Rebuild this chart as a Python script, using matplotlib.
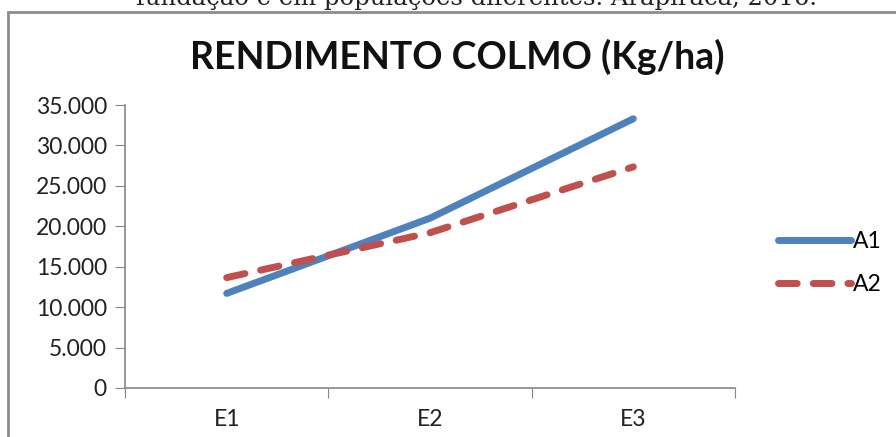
import matplotlib
matplotlib.use("Agg")
import matplotlib.pyplot as plt
from matplotlib.ticker import FuncFormatter
from matplotlib.patches import Rectangle

categories = ["E1", "E2", "E3"]
a1 = [11700, 21000, 33300]
a2 = [13650, 19200, 27350]
series_names = ["A1", "A2"]
yticks = [0, 5000, 10000, 15000, 20000, 25000, 30000, 35000]

blue = "#4F81BD"
red = "#C0504D"
axis_grey = "#868686"
font = "Lato"
lab_size = 16.5

fig = plt.figure(figsize=(8.96, 4.37), dpi=100)
fig.patch.set_facecolor("white")

# caption fragment at top (cut off in the reference)
fig.text(0.532, 1 - 5/437, "fundação e em populações diferentes. Arapiraca, 2016.",
         ha="center", va="baseline", fontsize=17.5, family="DejaVu Serif", color="#222222")

# chart frame
fig.patches.append(Rectangle((8/896, -0.1), 1.2, 1 - 12/437 + 0.1, transform=fig.transFigure,
                             fill=False, edgecolor="#8c8c8c", linewidth=2))

ax = fig.add_axes([125/896, 1 - 388/437, (735 - 125)/896, (388 - 105)/437])
x = list(range(len(categories)))
l1, = ax.plot(x, a1, color=blue, linewidth=5, solid_capstyle="round", label=series_names[0])
l2, = ax.plot(x, a2, color=red, linewidth=5, linestyle=(0, (2.7, 2.3)), dash_capstyle="round",
              label=series_names[1])

ax.set_xlim(-0.5, len(categories) - 0.5)
ax.set_ylim(0, 35000)
ax.set_yticks(yticks)
ax.yaxis.set_major_formatter(FuncFormatter(lambda v, p: f"{int(v):,}".replace(",", ".")))
ax.set_xticks([i - 0.5 for i in range(len(categories) + 1)])
ax.set_xticklabels([])
ax.set_xticks(x, minor=True)
ax.set_xticklabels(categories, minor=True)
ax.tick_params(axis="x", which="minor", length=0, pad=15, labelsize=lab_size, labelcolor="#222222")
ax.tick_params(axis="x", which="major", length=7, color=axis_grey, direction="out")
ax.tick_params(axis="y", length=7, color=axis_grey, direction="out", pad=6, labelsize=lab_size,
               labelcolor="#222222")
for lab in ax.get_xticklabels(minor=True) + ax.get_yticklabels():
    lab.set_family(font)
for s in ["top", "right"]:
    ax.spines[s].set_visible(False)
for s in ["left", "bottom"]:
    ax.spines[s].set_color(axis_grey)
    ax.spines[s].set_linewidth(1.2)

fig.text(457/896, 1 - 57/437, "RENDIMENTO COLMO (Kg/ha)", ha="center", va="center",
         fontsize=27, fontweight="bold", family=font, color="#111111")

leg = fig.legend(handles=[l1, l2], loc="center left", bbox_to_anchor=(757/896, 1 - 263/437),
                 frameon=False, handlelength=3.2, handletextpad=0.1,
                 labelspacing=1.0, prop={"family": font, "size": lab_size})

fig.savefig("out.png", dpi=100, facecolor="white")
